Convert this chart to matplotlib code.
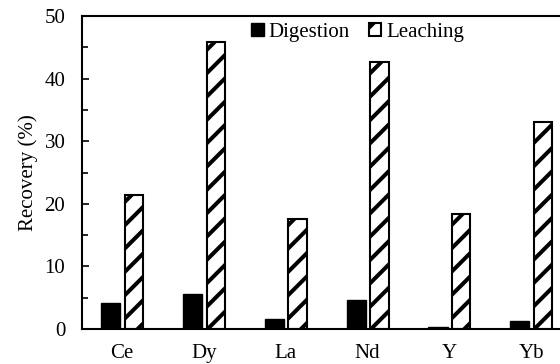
import matplotlib
matplotlib.use("Agg")
import matplotlib.pyplot as plt
import numpy as np

elements = ["Ce", "Dy", "La", "Nd", "Y", "Yb"]
digestion = [4.15, 5.65, 1.55, 4.7, 0.25, 1.3]
leaching = [21.4, 45.8, 17.6, 42.7, 18.4, 33.0]
y_ticks = [0, 10, 20, 30, 40, 50]

# Rendered at 70 dpi so the single-slash hatch gets its wider stripe spacing;
# point sizes are scaled up to keep the same pixel sizes.
DPI = 70
s = 100 / DPI

plt.rcParams["font.family"] = ["Liberation Serif", "DejaVu Serif"]
plt.rcParams["hatch.linewidth"] = 2.9 * s
plt.rcParams["font.size"] = 15 * s

fig = plt.figure(figsize=(560 / DPI, 364 / DPI), dpi=DPI)
ax = fig.add_axes([82 / 560, 1 - 329 / 364, 490 / 560, 313 / 364])

x = np.arange(len(elements))
w = 0.235
ax.bar(x - 0.138, digestion, width=w, color="black", edgecolor="black",
       linewidth=1.0 * s, label="Digestion")
ax.bar(x + 0.145, leaching, width=w - 0.01, color="white", edgecolor="black",
       hatch="/", linewidth=1.5 * s, label="Leaching")

ax.set_xlim(-0.49, len(elements) - 0.5)
ax.set_ylim(0, 50)
ax.set_yticks(y_ticks)
ax.set_yticks(np.arange(5, 50, 10), minor=True)
ax.set_xticks(x)
ax.set_xticklabels(elements)
ax.tick_params(axis="x", length=0, pad=11 * s)
ax.tick_params(axis="y", which="major", direction="in", length=5 * s,
               width=1.2 * s, pad=12 * s)
ax.tick_params(axis="y", which="minor", direction="in", length=4 * s,
               width=1.2 * s)
ax.set_ylabel("Recovery (%)", labelpad=5 * s)

for side in ["left", "bottom", "top"]:
    ax.spines[side].set_linewidth(1.5 * s)
ax.spines["right"].set_visible(False)

ax.legend(loc="center left", bbox_to_anchor=(251 / 560, 1 - 32 / 364),
          bbox_transform=fig.transFigure, ncol=2, frameon=False,
          borderpad=0, borderaxespad=0, handlelength=0.6, handleheight=0.6,
          handletextpad=0.25, columnspacing=0.9)

fig.savefig("out.png", dpi=DPI)
